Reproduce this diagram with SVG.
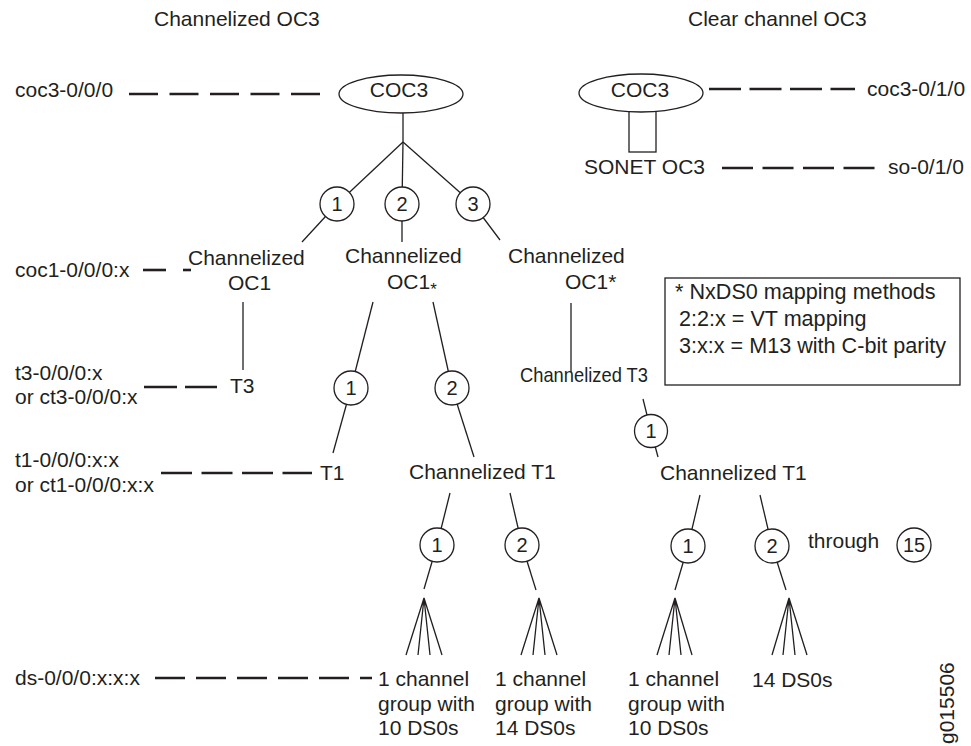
<svg xmlns="http://www.w3.org/2000/svg" width="971" height="746" viewBox="0 0 971 746">
<style>
text{font-family:"Liberation Sans",Arial,sans-serif;font-size:21px;fill:#231f20}
.m{text-anchor:middle}
.n{font-size:20px;text-anchor:middle}
.lg{font-size:21.6px}
.ln{stroke:#231f20;stroke-width:1.3;fill:none}
.ds{stroke:#231f20;stroke-width:2.6;fill:none}
.c{stroke:#231f20;stroke-width:1.3;fill:#fff}
</style>
<rect width="971" height="746" fill="#fff"/>
<g id="titles">
<text x="154" y="26">Channelized OC3</text>
<text x="688" y="26">Clear channel OC3</text>
</g>
<g id="connectors">
<line class="ds" x1="129" y1="94" x2="322" y2="94" stroke-dasharray="29 11.5"/>
<line class="ds" x1="709" y1="89" x2="855" y2="89" stroke-dasharray="32 8.5"/>
<line class="ds" x1="722" y1="168" x2="875" y2="168" stroke-dasharray="31 9.5"/>
<line class="ds" x1="143" y1="270" x2="166" y2="270"/>
<line class="ds" x1="183" y1="270" x2="191" y2="270"/>
<line class="ds" x1="144" y1="387" x2="217" y2="387" stroke-dasharray="33 8"/>
<line class="ds" x1="161" y1="473" x2="312" y2="473" stroke-dasharray="31 9.5"/>
<line class="ds" x1="155" y1="678" x2="372" y2="678" stroke-dasharray="30 11"/>
<polyline class="ln" points="403,113 403,142"/>
<line class="ln" x1="403" y1="142" x2="337" y2="204"/>
<line class="ln" x1="403" y1="142" x2="402" y2="204"/>
<line class="ln" x1="403" y1="142" x2="473" y2="204"/>
<line class="ln" x1="337" y1="204" x2="302" y2="242"/>
<line class="ln" x1="402" y1="204" x2="402" y2="242"/>
<line class="ln" x1="473" y1="204" x2="500" y2="240"/>
<line class="ln" x1="243" y1="302" x2="243" y2="370"/>
<line class="ln" x1="373" y1="302" x2="351" y2="388"/>
<line class="ln" x1="433" y1="302" x2="452" y2="388"/>
<line class="ln" x1="351" y1="388" x2="333" y2="453"/>
<line class="ln" x1="452" y1="388" x2="474" y2="457"/>
<line class="ln" x1="571" y1="303" x2="571" y2="372"/>
<line class="ln" x1="643" y1="399" x2="651" y2="431"/>
<line class="ln" x1="651" y1="431" x2="658" y2="457"/>
<line class="ln" x1="450" y1="493" x2="437" y2="545"/>
<line class="ln" x1="510" y1="493" x2="522" y2="545"/>
<line class="ln" x1="437" y1="545" x2="424" y2="589"/>
<line class="ln" x1="522" y1="545" x2="536" y2="590"/>
<line class="ln" x1="700" y1="495" x2="688" y2="546"/>
<line class="ln" x1="760" y1="495" x2="772" y2="546"/>
<line class="ln" x1="688" y1="546" x2="675" y2="590"/>
<line class="ln" x1="772" y1="546" x2="786" y2="590"/>
<path class="ln" d="M406,655L424,598L418,655M430,655L424,598L442,655"/>
<path class="ln" d="M521,655L539,598L533,655M545,655L539,598L557,655"/>
<path class="ln" d="M657,655L675,598L669,655M681,655L675,598L692,655"/>
<path class="ln" d="M772,655L789,598L783,655M795,655L789,598L807,655"/>
</g>
<g id="coc3-left">
<ellipse class="c" cx="401" cy="94" rx="62" ry="19"/>
<text class="m" x="399" y="97">COC3</text>
</g>
<g id="coc3-right">
<rect class="c" x="629" y="110" width="27" height="42"/>
<ellipse class="c" cx="641" cy="93" rx="62" ry="19"/>
<text class="m" x="640" y="97">COC3</text>
</g>
<g id="sonet-oc3"><text x="584" y="174">SONET OC3</text></g>
<g id="labels-left">
<text x="15" y="97">coc3-0/0/0</text>
<text x="867" y="96">coc3-0/1/0</text>
<text x="888" y="174">so-0/1/0</text>
<text x="15" y="277">coc1-0/0/0:x</text>
<text x="15" y="380">t3-0/0/0:x</text>
<text x="15" y="404">or ct3-0/0/0:x</text>
<text x="15" y="467">t1-0/0/0:x:x</text>
<text x="15" y="492">or ct1-0/0/0:x:x</text>
<text x="15" y="685">ds-0/0/0:x:x:x</text>
</g>
<g id="oc1-a"><text x="188" y="265">Channelized</text><text x="228" y="290">OC1</text></g>
<g id="oc1-b"><text x="345" y="263">Channelized</text><text x="387" y="289">OC1<tspan font-size="17" dy="6">*</tspan></text></g>
<g id="oc1-c"><text x="508" y="263">Channelized</text><text x="565" y="289">OC1*</text></g>
<g id="t3"><text x="230" y="393">T3</text></g>
<g id="ct3"><text x="520" y="382" textLength="128" lengthAdjust="spacingAndGlyphs">Channelized T3</text></g>
<g id="t1"><text x="320" y="480">T1</text></g>
<g id="ct1-a"><text x="409" y="479">Channelized T1</text></g>
<g id="ct1-b"><text x="660" y="480">Channelized T1</text></g>
<g id="circles">
<circle class="c" cx="337" cy="204" r="17"/><text class="n" x="337" y="211">1</text>
<circle class="c" cx="402" cy="204" r="17"/><text class="n" x="402" y="211">2</text>
<circle class="c" cx="473" cy="204" r="17"/><text class="n" x="473" y="211">3</text>
<circle class="c" cx="351" cy="388" r="17"/><text class="n" x="351" y="395">1</text>
<circle class="c" cx="452" cy="388" r="17"/><text class="n" x="452" y="395">2</text>
<circle class="c" cx="651" cy="431" r="16.5"/><text class="n" x="651" y="438">1</text>
<circle class="c" cx="437" cy="545" r="17"/><text class="n" x="437" y="552">1</text>
<circle class="c" cx="522" cy="545" r="17"/><text class="n" x="522" y="552">2</text>
<circle class="c" cx="688" cy="546" r="17"/><text class="n" x="688" y="553">1</text>
<circle class="c" cx="772" cy="546" r="17"/><text class="n" x="772" y="553">2</text>
<circle class="c" cx="914" cy="545" r="17"/><text class="n" x="914" y="552">15</text>
</g>
<g id="through"><text x="808" y="548">through</text></g>
<g id="legend">
<rect x="665" y="278" width="295" height="107" fill="#fff" stroke="#231f20" stroke-width="1.3"/>
<text class="lg" x="675" y="299">* NxDS0 mapping methods</text>
<text class="lg" x="679" y="326">2:2:x = VT mapping</text>
<text class="lg" x="679" y="353">3:x:x = M13 with C-bit parity</text>
</g>
<g id="group-a"><text x="378" y="686">1 channel</text><text x="378" y="711">group with</text><text x="378" y="735">10 DS0s</text></g>
<g id="group-b"><text x="495" y="686">1 channel</text><text x="495" y="711">group with</text><text x="495" y="735">14 DS0s</text></g>
<g id="group-c"><text x="628" y="686">1 channel</text><text x="628" y="711">group with</text><text x="628" y="735">10 DS0s</text></g>
<g id="group-d"><text x="752" y="687">14 DS0s</text></g>
<g id="figid"><text x="954" y="744" font-size="15" transform="rotate(-90 954 744)">g015506</text></g>
</svg>
